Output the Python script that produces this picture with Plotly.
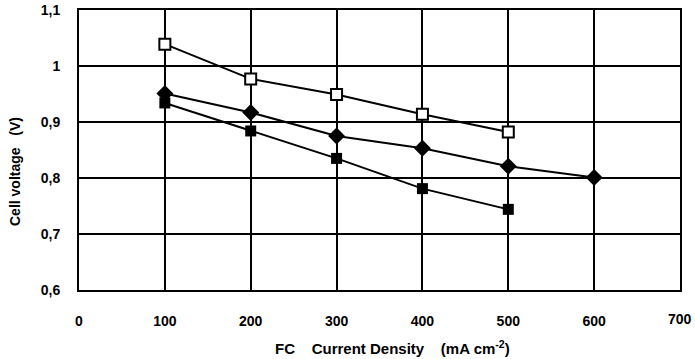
import plotly.graph_objects as go

x_open = [100, 200, 300, 400, 500]
y_open = [1.039, 0.977, 0.949, 0.914, 0.882]
x_diam = [100, 200, 300, 400, 500, 600]
y_diam = [0.951, 0.917, 0.875, 0.853, 0.821, 0.801]
x_fill = [100, 200, 300, 400, 500]
y_fill = [0.934, 0.884, 0.835, 0.781, 0.744]

y_tickvals = [0.6, 0.7, 0.8, 0.9, 1.0, 1.1]
y_ticktext = ["0,6", "0,7", "0,8", "0,9", "1", "1,1"]
x_tickvals = [0, 100, 200, 300, 400, 500, 600, 700]

FAM = "Liberation Sans, Arial, sans-serif"
tickfont = dict(family=FAM, size=14, color="black", weight="bold")

fig = go.Figure()
fig.add_trace(go.Scatter(x=x_open, y=y_open, mode="lines+markers",
                         line=dict(color="black", width=2),
                         marker=dict(symbol="square", size=11, color="white",
                                     line=dict(color="black", width=2))))
fig.add_trace(go.Scatter(x=x_diam, y=y_diam, mode="lines+markers",
                         line=dict(color="black", width=2),
                         marker=dict(symbol="diamond", size=13, color="black")))
fig.add_trace(go.Scatter(x=x_fill, y=y_fill, mode="lines+markers",
                         line=dict(color="black", width=2),
                         marker=dict(symbol="square", size=11, color="black")))

fig.update_layout(
    width=695, height=359,
    margin=dict(l=79, r=15, t=10, b=69, autoexpand=False),
    paper_bgcolor="white", plot_bgcolor="white",
    showlegend=False,
    font=dict(family=FAM, size=14, color="black"),
    xaxis=dict(range=[0, 700], tickvals=x_tickvals[:-1], showgrid=True,
               gridcolor="black", gridwidth=1.5, zeroline=False,
               showline=True, linecolor="black", linewidth=2, mirror=True,
               ticks="", ticklabelstandoff=17, tickfont=tickfont, automargin=False),
    yaxis=dict(range=[0.6, 1.1], tickvals=y_tickvals, ticktext=y_ticktext,
               showgrid=True, gridcolor="black", gridwidth=1.5, zeroline=False,
               showline=True, linecolor="black", linewidth=2, mirror=True,
               ticks="", ticklabelstandoff=14, tickfont=tickfont, automargin=False),
)

# last x tick label (sits at the right edge of the picture)
fig.add_annotation(x=x_tickvals[-1], y=-0.104, xref="x", yref="paper",
                   text=str(x_tickvals[-1]), showarrow=False,
                   xanchor="center", yanchor="middle", font=tickfont)

# axis titles
fig.add_annotation(x=0.522, y=-0.204, xref="paper", yref="paper",
                   text="FC&nbsp;&nbsp;&nbsp;&nbsp;Current Density&nbsp;&nbsp;&nbsp;&nbsp;(mA cm<sup>-2</sup>)",
                   showarrow=False, xanchor="center", yanchor="middle",
                   font=dict(family=FAM, size=15, color="black", weight="bold"))
fig.add_annotation(x=-0.1065, y=0.425, xref="paper", yref="paper",
                   text="Cell voltage&nbsp;&nbsp;&nbsp;(V)", textangle=-90,
                   showarrow=False, xanchor="center", yanchor="middle",
                   font=dict(family=FAM, size=14, color="black", weight="bold"))

fig.write_html("out.html")
